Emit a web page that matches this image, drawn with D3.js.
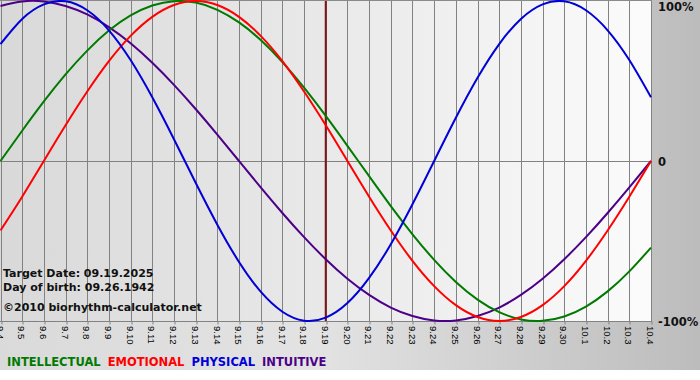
<!DOCTYPE html>
<html>
<head>
<meta charset="utf-8">
<script src="https://cdn.jsdelivr.net/npm/d3@7"></script>
<style>
html,body{margin:0;padding:0;background:#fff;}
svg{display:block;}
</style>
</head>
<body>
<svg id="chart" width="700" height="380"></svg>
<script>
// ---- data ----
const dates = ["9.4","9.5","9.6","9.7","9.8","9.9","9.10","9.11","9.12","9.13","9.14","9.15","9.16","9.17","9.18","9.19","9.20","9.21","9.22","9.23","9.24","9.25","9.26","9.27","9.28","9.29","9.30","10.1","10.2","10.3","10.4"];
const intellectual = [0,0.189,0.372,0.541,0.690,0.815,0.910,0.972,0.999,0.990,0.945,0.866,0.756,0.618,0.458,0.282,0.095,-0.095,-0.282,-0.458,-0.618,-0.756,-0.866,-0.945,-0.990,-0.999,-0.972,-0.910,-0.815,-0.690,-0.541];
const emotional = [-0.434,-0.223,0,0.223,0.434,0.624,0.782,0.901,0.975,1,0.975,0.901,0.782,0.624,0.434,0.223,0,-0.223,-0.434,-0.624,-0.782,-0.901,-0.975,-1,-0.975,-0.901,-0.782,-0.624,-0.434,-0.223,0];
const physical = [0.731,0.888,0.979,0.998,0.942,0.817,0.631,0.398,0.136,-0.136,-0.398,-0.631,-0.817,-0.942,-0.998,-0.979,-0.888,-0.731,-0.520,-0.270,0,0.270,0.520,0.731,0.888,0.979,0.998,0.942,0.817,0.631,0.398];
const intuitive = [0.969,0.997,0.997,0.969,0.916,0.837,0.736,0.614,0.476,0.325,0.165,0,-0.165,-0.325,-0.476,-0.614,-0.736,-0.837,-0.916,-0.969,-0.997,-0.997,-0.969,-0.916,-0.837,-0.736,-0.614,-0.476,-0.325,-0.165,0];
const seriesNames = ["INTELLECTUAL","EMOTIONAL","PHYSICAL","INTUITIVE"];
const yTickValues = [1,0,-1];
const yTickLabels = ["100%","0","-100%"];
const targetDate = "9.19";
const infoLines = ["Target Date: 09.19.2025","Day of birth: 09.26.1942","\u00A92010 biorhythm-calculator.net"];

// ---- drawing ----
const W = 700, H = 380;
const plot = {left:0, right:651, top:1, bottom:321};
const svg = d3.select("#chart");
const defs = svg.append("defs");

const outerGrad = defs.append("linearGradient").attr("id","outerG").attr("x1","0").attr("x2","1").attr("y1","0").attr("y2","0");
outerGrad.append("stop").attr("offset","0").attr("stop-color","#dadada");
outerGrad.append("stop").attr("offset","0.45").attr("stop-color","#e3e3e3");
outerGrad.append("stop").attr("offset","1").attr("stop-color","#bcbcbc");

const plotGrad = defs.append("linearGradient").attr("id","plotG").attr("x1","0").attr("x2","1").attr("y1","0").attr("y2","0");
plotGrad.append("stop").attr("offset","0").attr("stop-color","#d9d9d9");
plotGrad.append("stop").attr("offset","0.5").attr("stop-color","#e9e9e9");
plotGrad.append("stop").attr("offset","1").attr("stop-color","#fbfbfb");

svg.append("rect").attr("x",0).attr("y",0).attr("width",W).attr("height",370).attr("fill","url(#outerG)");
svg.append("rect").attr("x",plot.left).attr("y",plot.top).attr("width",plot.right-plot.left).attr("height",plot.bottom-plot.top).attr("fill","url(#plotG)");

const x = d3.scalePoint().domain(dates).range([plot.left+0.5, plot.right]);
const y = d3.scaleLinear().domain([-1,1]).range([plot.bottom, plot.top]);

// vertical grid
svg.append("g").selectAll("line").data(dates).join("line")
  .attr("x1",d=>Math.round(x(d))+0.5).attr("x2",d=>Math.round(x(d))+0.5)
  .attr("y1",plot.top).attr("y2",plot.bottom)
  .attr("stroke","#828282").attr("stroke-width",1);

// top border & zero line
svg.append("line").attr("x1",plot.left).attr("x2",plot.right+1).attr("y1",0.5).attr("y2",0.5).attr("stroke","#8a8a8a");
svg.append("line").attr("x1",plot.left).attr("x2",plot.right+1).attr("y1",Math.round(y(0))+0.5).attr("y2",Math.round(y(0))+0.5).attr("stroke","#828282");

// bottom axis
const xAxis = d3.axisBottom(x).tickSize(3).tickSizeOuter(0).tickFormat(()=> "");
const ax = svg.append("g").attr("transform",`translate(0.5,${plot.bottom+0.5})`).call(xAxis);
ax.select(".domain").attr("stroke","#828282").attr("d",`M${plot.left-0.5},0H${plot.right+0.5}`);
ax.selectAll(".tick line").attr("stroke","#828282")
  .attr("transform",d=>`translate(${Math.round(x(d))-x(d)},0)`);

svg.append("g").selectAll("text").data(dates).join("text")
  .attr("transform",d=>`translate(${x(d)-0.5},326) rotate(90)`)
  .attr("dy","0.35em")
  .attr("font-family","Liberation Sans, Arial, sans-serif")
  .attr("font-size","9.5px")
  .attr("fill","#000")
  .text(d=>d);

// target line
svg.append("line")
  .attr("x1",x(targetDate)).attr("x2",x(targetDate))
  .attr("y1",plot.top).attr("y2",plot.bottom)
  .attr("stroke","#7d1515").attr("stroke-width",2);

// info texts
svg.append("g").selectAll("text").data(infoLines).join("text")
  .attr("x",3).attr("y",(d,i)=>[276.5,290.5,311][i])
  .attr("font-family","DejaVu Sans, Verdana, sans-serif")
  .attr("font-weight","bold").attr("font-size","11px").attr("fill","#111")
  .text(d=>d);

// curves
const colors = {INTELLECTUAL:"#007a00", EMOTIONAL:"#ff0000", PHYSICAL:"#0000d8", INTUITIVE:"#4c0088"};
const values = {INTELLECTUAL:intellectual, EMOTIONAL:emotional, PHYSICAL:physical, INTUITIVE:intuitive};
const line = d3.line().x((v,i)=>x(dates[i])).y(v=>y(v)).curve(d3.curveNatural);
const drawOrder = ["INTUITIVE","INTELLECTUAL","EMOTIONAL","PHYSICAL"];
svg.append("g").selectAll("path").data(drawOrder).join("path")
  .attr("d",k=>line(values[k]))
  .attr("fill","none").attr("stroke",k=>colors[k]).attr("stroke-width",2);

// right axis labels
svg.append("g").selectAll("text").data(yTickValues).join("text")
  .attr("x",658)
  .attr("y",(d,i)=> i===0 ? 7 : y(d)+1)
  .attr("dy","0.35em")
  .attr("font-family","DejaVu Sans, Verdana, sans-serif")
  .attr("font-weight","bold").attr("font-size","11.5px").attr("fill","#111")
  .text((d,i)=>yTickLabels[i]);

// legend
const lg = svg.append("g");
let lx = 7;
seriesNames.forEach(n=>{
  const t = lg.append("text").attr("x",lx).attr("y",366)
    .attr("font-family","DejaVu Sans, Verdana, sans-serif")
    .attr("font-weight","bold").attr("font-size","11.5px")
    .attr("fill",colors[n]).text(n);
  lx += t.node().getComputedTextLength() + 7;
});
</script>
</body>
</html>
